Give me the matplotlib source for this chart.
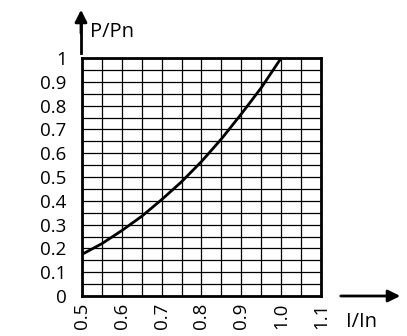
import matplotlib.pyplot as plt
import numpy as np

plt.rcParams['font.family'] = ['Open Sans', 'DejaVu Sans']

# curve
current = [0.5, 0.55, 0.6, 0.65, 0.7, 0.75, 0.8, 0.85, 0.9, 0.95, 1.0]
power = [0.175, 0.22, 0.275, 0.335, 0.405, 0.48, 0.565, 0.66, 0.765, 0.875, 1.0]

x_ticks = [0.5, 0.6, 0.7, 0.8, 0.9, 1.0, 1.1]
x_labels = ['0.5', '0.6', '0.7', '0.8', '0.9', '1.0', '1.1']
y_ticks = [0, 0.1, 0.2, 0.3, 0.4, 0.5, 0.6, 0.7, 0.8, 0.9, 1]
y_labels = ['0', '0.1', '0.2', '0.3', '0.4', '0.5', '0.6', '0.7', '0.8', '0.9', '1']

fig = plt.figure(figsize=(4.07, 3.36), dpi=100)
ax = fig.add_axes([82 / 407, 40 / 336, 239 / 407, 238 / 336])

ax.set_xlim(0.5, 1.1)
ax.set_ylim(0, 1)
ax.set_xticks(x_ticks)
ax.set_xticklabels(x_labels, rotation=90)
ax.set_yticks(y_ticks)
ax.set_yticklabels(y_labels)
ax.set_xticks(np.arange(0.5, 1.1001, 0.05), minor=True)
ax.set_yticks(np.arange(0, 1.0001, 0.05), minor=True)
ax.grid(which='both', color='black', linewidth=0.9)
ax.tick_params(which='both', length=0)
ax.tick_params(axis='y', pad=11, labelsize=13.5)
ax.tick_params(axis='x', pad=5, labelsize=13.5)
for s in ax.spines.values():
    s.set_linewidth(2)

ax.plot(current, power, color='black', linewidth=2)

# axis arrows
fig.add_artist(plt.Line2D([81 / 407, 81 / 407], [283 / 336, 315 / 336], color='black', lw=2))
ax.annotate('', xy=(81, 329), xytext=(81, 300), xycoords='figure pixels',
            arrowprops=dict(arrowstyle='-|>', color='black', lw=2, mutation_scale=18))
fig.text(90 / 407, 304 / 336, 'P/Pn', fontsize=14.5, va='center', ha='left')
ax.annotate('', xy=(403, 40), xytext=(338, 40), xycoords='figure pixels',
            arrowprops=dict(arrowstyle='-|>', color='black', lw=2, mutation_scale=18))
fig.text(346 / 407, 14 / 336, 'I/In', fontsize=14.5, va='center', ha='left')

fig.savefig('out.png', dpi=100)
